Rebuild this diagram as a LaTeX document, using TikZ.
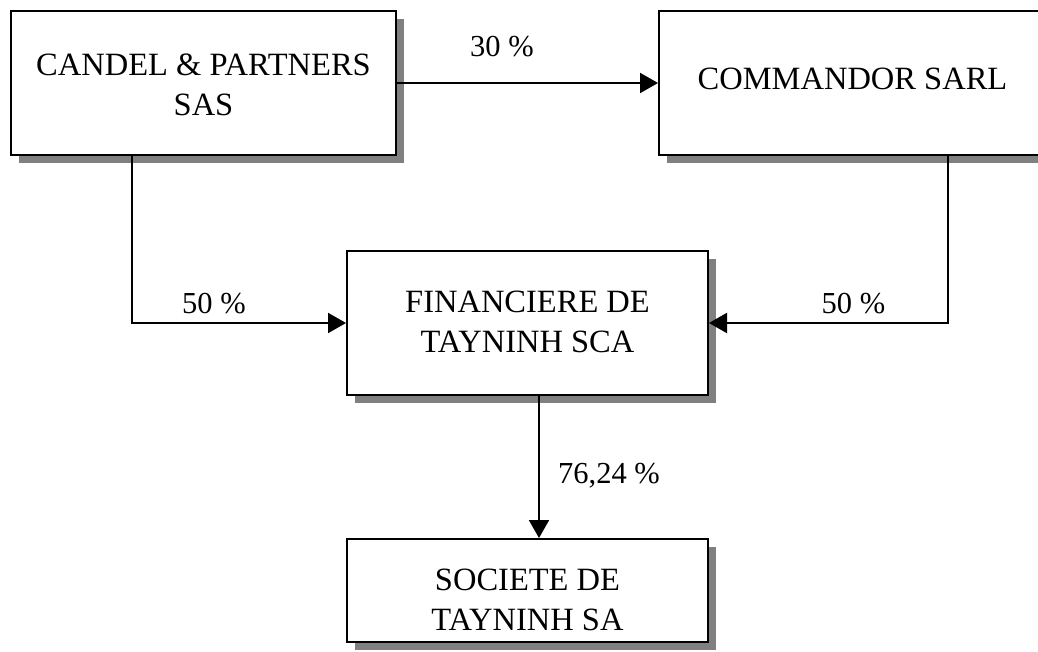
\documentclass[tikz,border=0pt]{standalone}
\usepackage{fontspec}
\setmainfont{Liberation Serif}
\usetikzlibrary{arrows.meta,shadows}
\definecolor{shadowgray}{HTML}{808080}
\begin{document}
\begin{tikzpicture}[x=1pt,y=-1pt,
  box/.style={draw=black,line width=2pt,fill=white,rectangle,inner sep=0pt,
    drop shadow={shadow xshift=8pt,shadow yshift=-8pt,fill=shadowgray,opacity=1}},
  boxtext/.style={align=center,inner sep=0pt,font=\fontsize{32.5}{40}\selectfont},
  pct/.style={inner sep=0pt,font=\fontsize{30.5}{36}\selectfont},
  conn/.style={line width=2pt,-{Triangle[length=18pt,width=20pt]}}]
\useasboundingbox (0,0) rectangle (1038,652);
\clip (0,0) rectangle (1038,652);
% boxes
\node[box,minimum width=385pt,minimum height=144pt] (b1) at (203.5,83) {};
\node[box,minimum width=386pt,minimum height=144pt] (b2) at (852,83) {};
\node[box,minimum width=361pt,minimum height=144pt] (b3) at (527.5,323) {};
\node[box,minimum width=361pt,minimum height=103pt] (b4) at (527.5,590.5) {};
% texts
\node[boxtext] (t1) at (203.5,85) {CANDEL \& PARTNERS\\SAS};
\node[boxtext] (t2) at (852.5,79) {COMMANDOR SARL};
\node[boxtext] (t3) at (527.5,322) {FINANCIERE DE\\TAYNINH SCA};
\node[boxtext] (t4) at (527.5,600) {SOCIETE DE\\TAYNINH SA};
% connector corners
\coordinate (k1) at (132,155);
\coordinate (k2) at (948,155);
\coordinate (k3) at (539,395);
% connectors
\draw[conn] (b1.east) -- (b2.west);
\draw[conn] (k1) |- (b3.west);
\draw[conn] (k2) |- (b3.east);
\draw[conn] (k3) -- (k3 |- b4.north);
% labels
\node[pct] (l1) at (502,47) {30 \%};
\node[pct] (l2) at (214,304) {50 \%};
\node[pct] (l3) at (853.5,304) {50 \%};
\node[pct] (l4) at (609,476) {76,24 \%};
\end{tikzpicture}
\end{document}
